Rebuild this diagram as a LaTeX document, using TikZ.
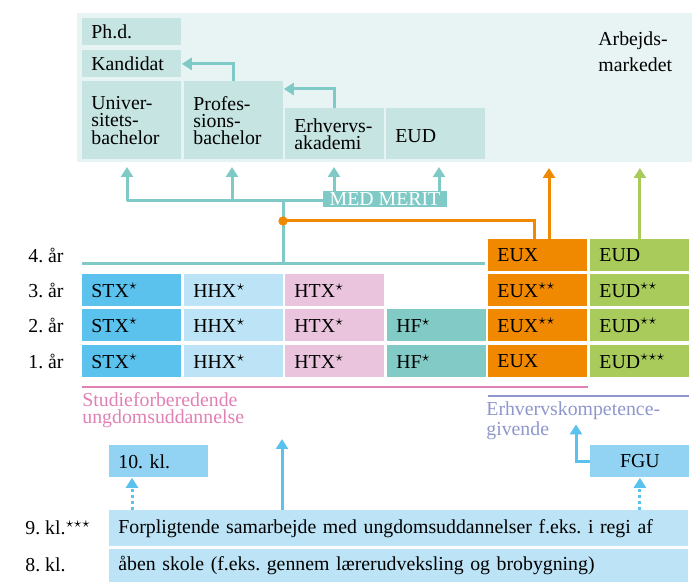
\documentclass[tikz,border=0pt]{standalone}
\usepackage{fontspec}
\setmainfont{Liberation Serif}
\usetikzlibrary{calc}
\usetikzlibrary{arrows.meta}
\frenchspacing
\definecolor{lightbg}{RGB}{232,244,244}
\definecolor{topbox}{RGB}{197,228,226}
\definecolor{teal1}{RGB}{127,202,198}
\definecolor{stxblue}{RGB}{91,194,238}
\definecolor{hhxblue}{RGB}{189,227,246}
\definecolor{htxpink}{RGB}{234,196,221}
\definecolor{hfteal}{RGB}{129,202,198}
\definecolor{orange1}{RGB}{240,136,0}
\definecolor{green1}{RGB}{168,203,92}
\definecolor{pink1}{RGB}{224,128,180}
\definecolor{purple1}{RGB}{142,150,204}
\definecolor{klblue}{RGB}{146,211,244}
\definecolor{arrowblue}{RGB}{91,194,238}

\tikzset{
  cell/.style={anchor=north west,inner sep=0pt,inner xsep=4.5pt,minimum width=49.5pt,minimum height=16pt,text width=40.5pt,align=left},
  widebox/.style={anchor=north west,inner sep=0pt,inner xsep=4.5pt,minimum width=289.5pt,text width=280.5pt,align=left,fill=hhxblue},
  sidelabel/.style={anchor=west,inner sep=0pt},
  tealline/.style={draw=teal1,line width=1.5pt},
  tealarrow/.style={tealline,-{Triangle[width=6pt,length=5pt]}},
  orangeline/.style={draw=orange1,line width=1.5pt},
  bluearrow/.style={draw=arrowblue,line width=1.5pt,-{Triangle[width=6pt,length=5pt]}},
  bluedotarrow/.style={bluearrow,dash pattern=on 1.5pt off 1.5pt}
}

\begin{document}
\begin{tikzpicture}[x=0.5pt,y=-0.5pt,font=\fontsize{9.9}{8.6}\selectfont]

	\useasboundingbox (0,0) rectangle (692,582);

	%%% Higher education field
	\fill[lightbg] (77,13) rectangle (692,162);
	\node[cell,fill=topbox,minimum height=13.5pt] (phd) at (82,18) {Ph.d.};
	\node[cell,fill=topbox,minimum height=13.5pt] (kand) at (82,50) {Kandidat};
	\node[cell,fill=topbox,minimum height=39pt] (unibach) at (82,81) {Univer-\\sitets-\\bachelor};
	\node[cell,fill=topbox,minimum height=39pt] (profbach) at (184,81) {Profes-\\sions-\\bachelor};
	\node[cell,fill=topbox,minimum height=25.5pt] (erhak) at (285,108) {Erhvervs-\\akademi};
	\node[cell,fill=topbox,minimum height=25.5pt] (eudtop) at (386,108) {\mbox{}\\EUD};
	\node[anchor=north west,inner sep=0pt,align=left,font=\fontsize{9.9}{13}\selectfont] (arbm) at (598,31) {Arbejds-\\markedet};

	\draw[tealarrow] (profbach.north) |- (kand.east);
	\draw[tealarrow] (erhak.north) |- ($(profbach.north east)+(0,8)$);

	%%% Years
	\node[sidelabel] (yr4) at (28,255) {4. år};
	\node[sidelabel] (yr3) at (28,290) {3. år};
	\node[sidelabel] (yr2) at (28,325) {2. år};
	\node[sidelabel] (yr1) at (28,361) {1. år};

	%%% Youth education grid
	\node[cell,fill=orange1] (eux4) at (488,239) {EUX};
	\node[cell,fill=green1] (eud4) at (590,239) {EUD};

	\node[cell,fill=stxblue] (stx3) at (82,274) {STX$^\star$};
	\node[cell,fill=hhxblue] (hhx3) at (184,274) {HHX$^\star$};
	\node[cell,fill=htxpink] (htx3) at (285,274) {HTX$^\star$};
	\node[cell,fill=orange1] (eux3) at (488,274) {EUX$^{\star\star}$};
	\node[cell,fill=green1] (eud3) at (590,274) {EUD$^{\star\star}$};

	\node[cell,fill=stxblue] (stx2) at (82,309) {STX$^\star$};
	\node[cell,fill=hhxblue] (hhx2) at (184,309) {HHX$^\star$};
	\node[cell,fill=htxpink] (htx2) at (285,309) {HTX$^\star$};
	\node[cell,fill=hfteal] (hf2) at (387,309) {HF$^\star$};
	\node[cell,fill=orange1] (eux2) at (488,309) {EUX$^{\star\star}$};
	\node[cell,fill=green1] (eud2) at (590,309) {EUD$^{\star\star}$};

	\node[cell,fill=stxblue] (stx1) at (82,345) {STX$^\star$};
	\node[cell,fill=hhxblue] (hhx1) at (184,345) {HHX$^\star$};
	\node[cell,fill=htxpink] (htx1) at (285,345) {HTX$^\star$};
	\node[cell,fill=hfteal] (hf1) at (387,345) {HF$^\star$};
	\node[cell,fill=orange1] (eux1) at (488,345) {EUX};
	\node[cell,fill=green1] (eud1) at (590,345) {EUD$^{\star\star\star}$};

	%%% Ways on from the gymnasium
	\coordinate (yrline) at ($(stx3.north west)+(0,-10)$);
	\coordinate (join) at (283,264);
	\coordinate (split) at (283,201);
	\coordinate (m1) at (127,201);
	\coordinate (m2) at (232,201);
	\coordinate (m3) at (334,201);
	\coordinate (m4) at (439,201);
	\draw[tealline] (yrline) -- ($(eux3.north west)+(-3,-10)$);
	\draw[tealline] (join) -- (split);
	\draw[tealline] (m1) -- (m4);
	\draw[tealarrow] (m1) -- ++(0,-34);
	\draw[tealarrow] (m2) -- ++(0,-34);
	\draw[tealarrow] (m3) -- ++(0,-34);
	\draw[tealarrow] (m4) -- ++(0,-34);
	\node[fill=teal1,text=white,inner sep=0pt,minimum height=8pt,minimum width=62pt] (merit) at (385,199) {MED MERIT};

	%%% EUX and EUD ways on
	\node[circle,fill=orange1,minimum size=4.5pt,inner sep=0pt] (odot) at (283,221) {};
	\draw[orangeline] (odot.center) -| ($(eux4.north west)+(46,0)$);
	\node[circle,fill=orange1,minimum size=4.5pt,inner sep=0pt] at (odot) {};
	\draw[orangeline,-{Triangle[width=6pt,length=5pt]}] ($(eux4.north west)+(61,0)$) -- ++(0,-71);
	\draw[draw=green1,line width=1.5pt,-{Triangle[width=6pt,length=5pt]}] (eud4.north) -- ++(0,-71);

	%%% Group lines and texts
	\draw[draw=pink1,line width=1.25pt] ($(stx1.south west)+(0,9)$) -- ($(eux1.south east)+(0,9)$);
	\draw[draw=purple1,line width=1.25pt] ($(eux1.south west)+(0,18)$) -- ($(eud1.south east)+(-1,18)$);
	\node[anchor=north west,inner sep=0pt,align=left,text=pink1] (sfu) at (82,392) {Studieforberedende\\ungdomsuddannelse};
	\node[anchor=north west,inner sep=0pt,align=left,text=purple1] (ekg) at (486,401) {Erhvervskompetence-\\givende};

	%%% Primary school
	\node[cell,fill=klblue] (kl10) at (109,445) {10. kl.};
	\node[cell,fill=klblue,align=center] (fgu) at (590,445) {FGU};
	\node[widebox,minimum height=18pt] (samarb) at (109,510) {Forpligtende samarbejde med ungdomsuddannelser f.eks. i regi af};
	\node[widebox,minimum height=16.5pt] (aaben) at (109,549) {åben skole (f.eks. gennem lærerudveksling og brobygning)};
	\node[sidelabel] (kl9) at (25,528) {9. kl.$^{\star\star\star}$};
	\node[sidelabel] (kl8) at (25,565) {8. kl.};

	\draw[bluedotarrow] ($(samarb.north west)+(23,0)$) -- ($(kl10.south west)+(23,0)$);
	\draw[bluearrow] ($(samarb.north west)+(173,0)$) -- ++(0,-71);
	\draw[bluedotarrow] (samarb.north -| fgu.south) -- (fgu.south);
	\draw[bluearrow] (fgu.west) -| ++(-14,-37);

\end{tikzpicture}
\end{document}
